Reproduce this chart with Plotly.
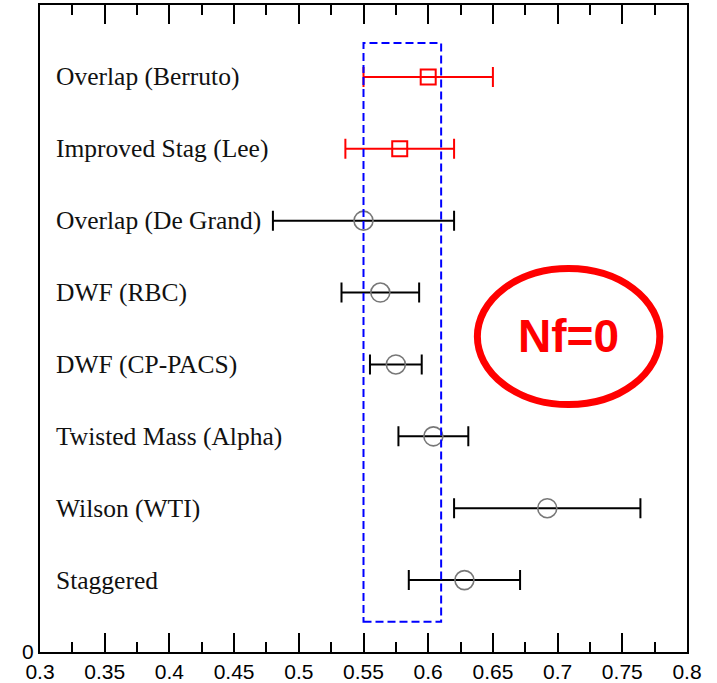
import plotly.graph_objects as go

# Lattice determinations, listed top to bottom
labels = [
    "Overlap (Berruto)",
    "Improved Stag (Lee)",
    "Overlap (De Grand)",
    "DWF (RBC)",
    "DWF (CP-PACS)",
    "Twisted Mass (Alpha)",
    "Wilson (WTI)",
    "Staggered",
]
central = [0.600, 0.578, 0.550, 0.563, 0.575, 0.604, 0.692, 0.628]
errors = [0.050, 0.042, 0.070, 0.030, 0.020, 0.027, 0.072, 0.043]
new_result = [True, True, False, False, False, False, False, False]
rows = list(range(len(labels), 0, -1))  # 8 ... 1

# Highlighted band and x-axis ticks
band = (0.55, 0.61)
x_ticks = [0.3, 0.35, 0.4, 0.45, 0.5, 0.55, 0.6, 0.65, 0.7, 0.75, 0.8]

fig = go.Figure()

red_idx = [i for i, n in enumerate(new_result) if n]
blk_idx = [i for i, n in enumerate(new_result) if not n]

fig.add_trace(go.Scatter(
    x=[central[i] for i in blk_idx],
    y=[rows[i] for i in blk_idx],
    mode="markers",
    marker=dict(symbol="circle-open", size=19, color="#777777",
                line=dict(width=1.6, color="#777777")),
    error_x=dict(type="data", array=[errors[i] for i in blk_idx],
                 color="black", thickness=2, width=10),
    showlegend=False,
))

fig.add_trace(go.Scatter(
    x=[central[i] for i in red_idx],
    y=[rows[i] for i in red_idx],
    mode="markers",
    marker=dict(symbol="square-open", size=15, color="#ff0000",
                line=dict(width=2, color="#ff0000")),
    error_x=dict(type="data", array=[errors[i] for i in red_idx],
                 color="#ff0000", thickness=2, width=10),
    showlegend=False,
))

# Row labels inside the frame
for lab, r in zip(labels, rows):
    fig.add_annotation(
        x=0.021, xref="paper", y=r, yref="y",
        text=lab, showarrow=False, xanchor="left", yanchor="middle",
        font=dict(family="Liberation Serif", size=25.5, color="#111111"),
    )

# Dashed blue band
fig.add_shape(
    type="rect", xref="x", yref="y",
    x0=band[0], x1=band[1], y0=0.42, y1=8.47,
    line=dict(color="#0000ff", width=2, dash="8px,4px"),
    fillcolor="rgba(0,0,0,0)", layer="above",
)

# Nf=0 badge
fig.add_shape(
    type="circle", xref="x", yref="y",
    x0=0.638, x1=0.779, y0=3.442, y1=5.334,
    line=dict(color="#ff0000", width=7),
)
fig.add_annotation(
    x=0.7085, y=4.40, xref="x", yref="y",
    text="<b>Nf=0</b>", showarrow=False,
    font=dict(family="Liberation Sans", size=46, color="#ff0000"),
)

fig.update_xaxes(
    range=[0.3, 0.8],
    tickvals=x_ticks,
    ticktext=[f"{v:g}" for v in x_ticks],
    ticks="inside", ticklen=19, tickwidth=2, tickcolor="black",
    minor=dict(ticks="inside", ticklen=10, tickwidth=2, tickcolor="black",
               dtick=0.025, tick0=0.3, showgrid=False),
    showline=True, linewidth=2, linecolor="black", mirror="allticks",
    showgrid=False, zeroline=False, automargin=False,
    tickfont=dict(family="Liberation Sans", size=21, color="black"),
)
fig.update_yaxes(
    range=[0, 9],
    tickvals=[0], ticktext=["0"],
    ticks="", showline=True, linewidth=2, linecolor="black", mirror=True,
    showgrid=False, zeroline=False, automargin=False,
    tickfont=dict(family="Liberation Sans", size=21, color="black"),
)

fig.update_layout(
    width=717, height=683,
    margin=dict(l=40, r=30, t=5, b=31),
    paper_bgcolor="white", plot_bgcolor="white",
)

fig.write_html("out.html")
